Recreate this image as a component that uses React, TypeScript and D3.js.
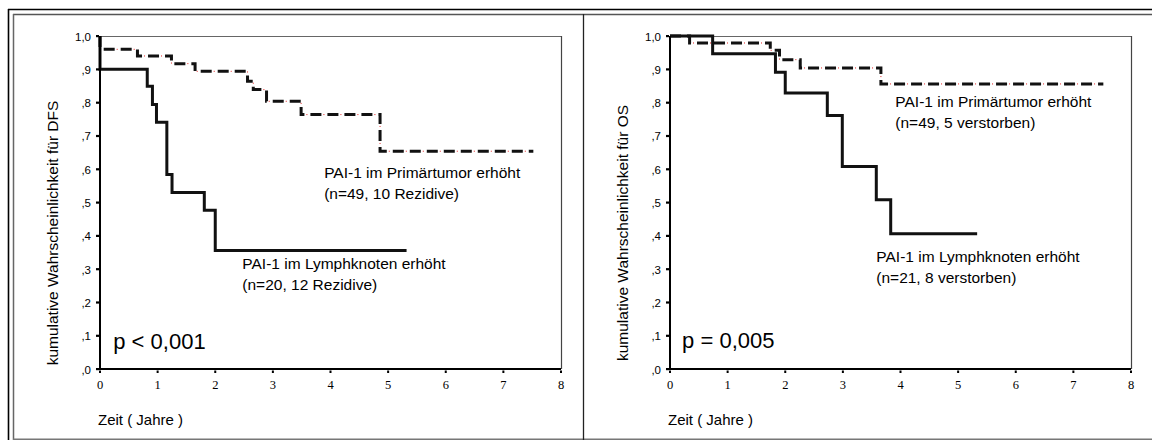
import React from 'react'
import * as d3 from 'd3'

// Kaplan-Meier step data (time in years, cumulative survival)
const dfsPrimaerTimes = [0, 0, 0.65, 1.24, 1.65, 2.56, 2.66, 2.89, 3.49, 4.86, 7.52]
const dfsPrimaerSurv = [1.0, 0.96, 0.94, 0.917, 0.894, 0.864, 0.839, 0.804, 0.764, 0.654, 0.654]
const dfsLymphTimes = [0, 0, 0.82, 0.91, 0.98, 1.16, 1.25, 1.81, 2.0, 5.32]
const dfsLymphSurv = [1.0, 0.9, 0.849, 0.794, 0.741, 0.584, 0.53, 0.477, 0.356, 0.356]

const osPrimaerTimes = [0, 0.34, 1.74, 1.9, 2.26, 3.66, 7.52]
const osPrimaerSurv = [1.0, 0.979, 0.957, 0.929, 0.904, 0.856, 0.856]
const osLymphTimes = [0, 0.74, 1.83, 2.0, 2.73, 2.99, 3.58, 3.83, 5.33]
const osLymphSurv = [1.0, 0.947, 0.891, 0.829, 0.761, 0.608, 0.508, 0.406, 0.406]

const yTicks = [0, 0.1, 0.2, 0.3, 0.4, 0.5, 0.6, 0.7, 0.8, 0.9, 1.0]
const xTicks = [0, 1, 2, 3, 4, 5, 6, 7, 8]

const xLabel = 'Zeit ( Jahre )'
const dfsYLabel = 'kumulative Wahrscheinlichkeit für DFS'
const osYLabel = 'kumulative Wahrscheinlichkeit für OS'

const sans = 'Arial, "Liberation Sans", Helvetica, sans-serif'
const serif = '"Times New Roman", "Liberation Serif", serif'

const fmtY = (v: number) => (v >= 1 ? '1,0' : ',' + Math.round(v * 10))

type Pt = { t: number, s: number }
const zip = (ts: number[], ss: number[]): Pt[] => ts.map((t, i) => ({ t, s: ss[i] }))

type Note = { t: number, s: number, lines: string[], size: number }

function Panel ({ left, yLabel, primaer, lymph, notes }: {
  left: number, yLabel: string, primaer: Pt[], lymph: Pt[], notes: Note[]
}) {
  const x0 = left
  const x = d3.scaleLinear().domain([0, 8]).range([x0, x0 + 461])
  const y = d3.scaleLinear().domain([0, 1]).range([369, 36])
  const line = d3.line<Pt>()
    .x(d => x(d.t))
    .y(d => y(d.s))
    .curve(d3.curveStepAfter)

  return (
    <g>
      {/* frame */}
      <line x1={x(0)} x2={x(8)} y1={y(1) + 0.5} y2={y(1) + 0.5} stroke='#666' strokeWidth={1} />
      <line x1={x(8) + 0.5} x2={x(8) + 0.5} y1={y(1)} y2={y(0)} stroke='#444' strokeWidth={1.2} />

      {/* curves */}
      <path d={line(primaer) || ''} fill='none' stroke='#e02020' strokeWidth={1} strokeDasharray='1 16' strokeDashoffset={-13} />
      <path d={line(primaer) || ''} fill='none' stroke='#111' strokeWidth={3} strokeDasharray='11 6' />
      <path d={line(lymph) || ''} fill='none' stroke='#111' strokeWidth={3} />

      {/* axes */}
      <line x1={x(0)} x2={x(0)} y1={y(1)} y2={y(0) + 1} stroke='#000' strokeWidth={2} />
      <line x1={x(0)} x2={x(8)} y1={y(0)} y2={y(0)} stroke='#000' strokeWidth={2} />
      {yTicks.map(v => (
        <g key={'y' + v}>
          <rect x={x(0) - 4} y={y(v) - 1} width={3} height={2.2} fill='#000' />
          <text x={x(0) - 9} y={y(v) + 4.5} textAnchor='end' fontFamily={sans} fontSize={11.5} fill='#000'>{fmtY(v)}</text>
        </g>
      ))}
      {xTicks.map(v => (
        <g key={'x' + v}>
          <rect x={x(v) - 1} y={y(0) + 1.5} width={2} height={2.5} fill='#000' />
          <text x={x(v)} y={389} textAnchor='middle' fontFamily={serif} fontSize={12.5} fill='#000'>{v}</text>
        </g>
      ))}

      <text transform={`translate(${x0 - 42},${233}) rotate(-90)`} textAnchor='middle' fontFamily={sans} fontSize={15.5} fill='#000'>{yLabel}</text>
      <text x={x0 - 2} y={425} fontFamily={sans} fontSize={15} fill='#000'>{xLabel}</text>

      {notes.map((n, i) => (
        <text key={i} x={x(n.t)} y={y(n.s)} fontFamily={sans} fontSize={n.size} fill='#000'>
          {n.lines.map((l, j) => (
            <tspan key={j} x={x(n.t)} dy={j === 0 ? 0 : 21}>{l}</tspan>
          ))}
        </text>
      ))}
    </g>
  )
}

export default function App () {
  const W = 1152
  const H = 440
  return (
    <svg width={W} height={H} style={{ position: 'absolute', left: 0, top: 0, background: '#fff' }}>
      <rect width={W} height={H} fill='#fff' />
      {/* table borders */}
      <line x1={8} x2={W} y1={9.5} y2={9.5} stroke='#000' strokeWidth={1.6} />
      <line x1={8.5} x2={8.5} y1={9} y2={H} stroke='#000' strokeWidth={1.6} />
      <line x1={13} x2={W} y1={14.5} y2={14.5} stroke='#555' strokeWidth={1.5} />
      <line x1={13.5} x2={13.5} y1={14} y2={H} stroke='#666' strokeWidth={1.5} />
      <line x1={13} x2={W} y1={439.3} y2={439.3} stroke='#777' strokeWidth={1.5} />
      <line x1={583.5} x2={583.5} y1={14} y2={H} stroke='#222' strokeWidth={1.3} />

      <Panel
        left={100}
        yLabel={dfsYLabel}
        primaer={zip(dfsPrimaerTimes, dfsPrimaerSurv)}
        lymph={zip(dfsLymphTimes, dfsLymphSurv)}
        notes={[
          { t: 3.89, s: 0.575, lines: ['PAI-1 im Primärtumor erhöht', '(n=49, 10 Rezidive)'], size: 15.5 },
          { t: 2.47, s: 0.30, lines: ['PAI-1 im Lymphknoten erhöht', '(n=20, 12 Rezidive)'], size: 15.5 },
          { t: 0.23, s: 0.061, lines: ['p < 0,001'], size: 22 }
        ]}
      />
      <Panel
        left={670}
        yLabel={osYLabel}
        primaer={zip(osPrimaerTimes, osPrimaerSurv)}
        lymph={zip(osLymphTimes, osLymphSurv)}
        notes={[
          { t: 3.91, s: 0.788, lines: ['PAI-1 im Primärtumor erhöht', '(n=49, 5 verstorben)'], size: 15.5 },
          { t: 3.58, s: 0.322, lines: ['PAI-1 im Lymphknoten erhöht', '(n=21, 8 verstorben)'], size: 15.5 },
          { t: 0.21, s: 0.064, lines: ['p = 0,005'], size: 22 }
        ]}
      />
    </svg>
  )
}
